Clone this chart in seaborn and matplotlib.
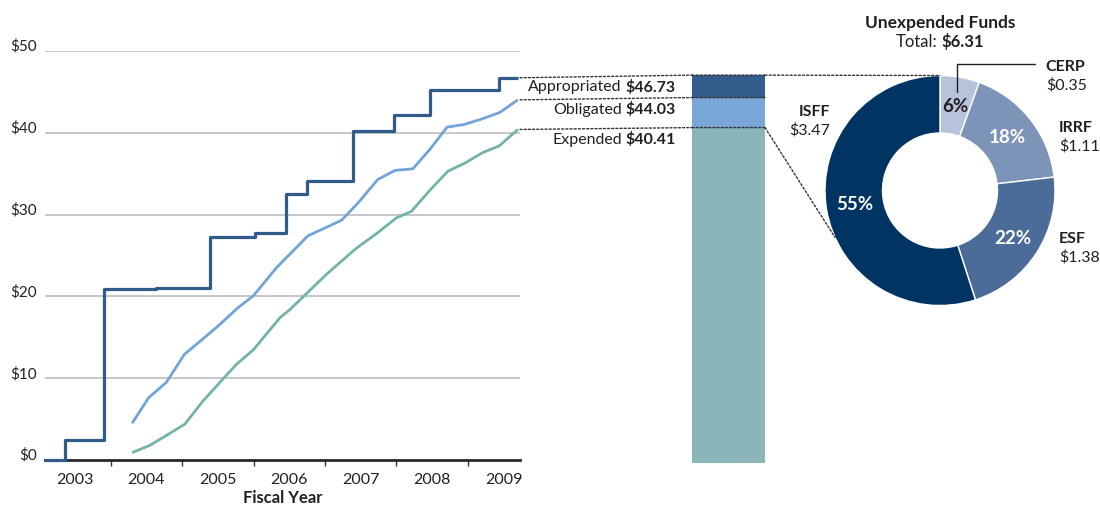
import numpy as np
import pandas as pd
import matplotlib
matplotlib.use("Agg")
import matplotlib.pyplot as plt
import seaborn as sns
from matplotlib.patches import ConnectionPatch
from matplotlib.transforms import ScaledTranslation, offset_copy

# ---------------- data ----------------
approp_x = [2003.08, 2003.36, 2003.90, 2004.64, 2005.39, 2006.02, 2006.46, 2006.75,
            2007.39, 2007.96, 2008.47, 2009.44, 2009.70]
approp_y = [0, 2.5, 20.9, 21.05, 27.3, 27.8, 32.5, 34.1, 40.2, 42.2, 45.2, 46.73, 46.73]

oblig_x = [2004.30, 2004.53, 2004.78, 2005.03, 2005.48, 2005.78, 2006.00, 2006.32,
           2006.76, 2007.23, 2007.46, 2007.74, 2007.98, 2008.23, 2008.47, 2008.71,
           2008.94, 2009.20, 2009.45, 2009.70]
oblig_y = [4.5, 7.6, 9.5, 12.9, 16.2, 18.6, 20.1, 23.5, 27.4, 29.3, 31.4, 34.3,
           35.4, 35.6, 38.0, 40.7, 41.0, 41.7, 42.5, 44.03]

expend_x = [2004.30, 2004.55, 2004.78, 2005.04, 2005.29, 2005.53, 2005.76, 2006.00,
            2006.37, 2006.51, 2007.02, 2007.44, 2007.74, 2008.00, 2008.21, 2008.47,
            2008.72, 2008.96, 2009.21, 2009.44, 2009.70]
expend_y = [0.9, 1.8, 3.0, 4.4, 7.2, 9.5, 11.7, 13.5, 17.4, 18.4, 22.7, 25.9, 27.8,
            29.6, 30.4, 33.0, 35.3, 36.3, 37.6, 38.4, 40.41]

years = [2003, 2004, 2005, 2006, 2007, 2008, 2009]
y_ticks = [0, 10, 20, 30, 40, 50]
y_tick_labels = ["$0", "$10", "$20", "$30", "$40", "$50"]

status_names = ["Appropriated", "Obligated", "Expended"]
status_values = [46.73, 44.03, 40.41]

fund_names = ["CERP", "IRRF", "ESF", "ISFF"]
fund_values = [0.35, 1.11, 1.38, 3.47]
fund_total = 6.31

# ---------------- style ----------------
C_APP = "#305b8b"
C_OBL = "#72a3d9"
C_EXP = "#72b4a9"
BAR_APP = "#335e8c"
BAR_OBL = "#78a6d6"
BAR_EXP = "#8ab6b9"
PIE_COLORS = ["#b6c3da", "#7d94b9", "#4b6c98", "#003462"]
TXT = "#231f20"

sns.set_style("white")
plt.rcParams["font.family"] = ["Lato", "DejaVu Sans"]
plt.rcParams["text.color"] = TXT

W, H = 1100, 510
fig = plt.figure(figsize=(W / 100, H / 100), dpi=100)

def rect(l, t, r, b):
    return [l / W, 1 - b / H, (r - l) / W, (b - t) / H]

# ---------------- line chart ----------------
ax = fig.add_axes(rect(45, 52, 520, 461))
df_a = pd.DataFrame({"x": approp_x, "y": approp_y})
df_o = pd.DataFrame({"x": oblig_x, "y": oblig_y})
df_e = pd.DataFrame({"x": expend_x, "y": expend_y})
sns.lineplot(data=df_e, x="x", y="y", ax=ax, color=C_EXP, lw=2.0, estimator=None,
             solid_capstyle="butt")
sns.lineplot(data=df_o, x="x", y="y", ax=ax, color=C_OBL, lw=2.0, estimator=None,
             solid_capstyle="butt")
sns.lineplot(data=df_a, x="x", y="y", ax=ax, color=C_APP, lw=2.3, estimator=None,
             drawstyle="steps-post", solid_capstyle="butt", zorder=4)
for l in ax.lines:
    l.set_clip_on(False)

ax.set_xlim(2003.08, 2009.73)
ax.set_ylim(0, 50)
ax.set_yticks(y_ticks)
ax.set_yticklabels(y_tick_labels)
ax.yaxis.grid(True, color="#bdbdbd", lw=1.2)
ax.xaxis.grid(False)
ax.tick_params(axis="y", length=0, pad=6, labelsize=11, labelcolor=TXT)
for lab in ax.get_yticklabels():
    lab.set_transform(lab.get_transform() + ScaledTranslation(0, 5 / 72, fig.dpi_scale_trans))

ax.set_xticks([y for y in years[1:]])
ax.set_xticklabels([])
ax.set_xticks([y + 0.5 for y in years], minor=True)
ax.set_xticklabels([str(y) for y in years], minor=True)
ax.tick_params(axis="x", which="major", direction="out", length=4, width=1, color="#333333", bottom=True)
ax.tick_params(axis="x", which="minor", length=0, pad=9, labelsize=11.5, labelcolor=TXT)
for s in ["top", "right", "left"]:
    ax.spines[s].set_visible(False)
ax.spines["bottom"].set_color("#2a2a2a")
ax.spines["bottom"].set_linewidth(2)
ax.set_xlabel("Fiscal Year", fontweight="bold", fontsize=12, labelpad=1.5, color=TXT)
ax.set_ylabel("")

# ---------------- stacked (overlaid) bar ----------------
ax_bar = fig.add_axes(rect(692, 49, 765, 464))
bar_colors = [BAR_APP, BAR_OBL, BAR_EXP]
for name, val, col in zip(status_names, status_values, bar_colors):
    sns.barplot(x=[""], y=[val], ax=ax_bar, color=col, width=1, saturation=1, linewidth=0)
ax_bar.set_xlim(-0.5, 0.5)
ax_bar.set_ylim(0, 50)
ax_bar.axis("off")

# ---------------- donut ----------------
ax_pie = fig.add_axes(rect(825, 76.5, 1055, 306.5))
wedges, texts, autotexts = ax_pie.pie(
    fund_values, colors=PIE_COLORS, startangle=90, counterclock=False, radius=1,
    wedgeprops=dict(width=0.5, edgecolor="white", linewidth=1),
    autopct="%1.0f%%", pctdistance=0.75,
    textprops=dict(fontsize=13.5, fontweight="bold"))
for i, t in enumerate(autotexts):
    t.set_color(TXT if i == 0 else "white")
ax_pie.set_xlim(-1, 1)
ax_pie.set_ylim(-1, 1)
ax_pie.set_aspect("equal")

# CERP leader line from wedge mid-angle
cerp_mid = np.deg2rad(90 - fund_values[0] / sum(fund_values) * 360 / 2)
lx = 0.87 * np.cos(cerp_mid)
ly = 0.87 * np.sin(cerp_mid)
ax_pie.plot([lx, lx, 0.826], [ly, 1.1, 1.1], color=TXT, lw=1, clip_on=False)

label_pos = {"CERP": (0.92, 1.083, "left"), "IRRF": (1.035, 0.552, "left"),
             "ESF": (1.035, -0.413, "left"), "ISFF": (-0.957, 0.691, "right")}
for name, val in zip(fund_names, fund_values):
    x, y, ha = label_pos[name]
    ax_pie.text(x, y, name, ha=ha, va="center", fontsize=11.5, fontweight="bold", clip_on=False)
    ax_pie.text(x, y - 0.155, f"${val:.2f}", ha=ha, va="center", fontsize=11.5, clip_on=False)

ax_pie.text(0, 1.465, "Unexpended Funds", ha="center", va="center", fontsize=12.5,
            fontweight="bold", clip_on=False)

renderer = fig.canvas.get_renderer()

# "Total: $6.31" centred
t1 = ax_pie.text(0, 1.30, "Total:", ha="left", va="center", fontsize=12)
t2 = ax_pie.text(0, 1.30, f"${fund_total:.2f}", ha="left", va="center", fontsize=12, fontweight="bold")
w1 = t1.get_window_extent(renderer).width
w2 = t2.get_window_extent(renderer).width
gap = 4
tot = w1 + gap + w2
t1.set_transform(offset_copy(ax_pie.transData, fig=fig, x=-tot / 2, y=0, units="dots"))
t2.set_transform(offset_copy(ax_pie.transData, fig=fig, x=-tot / 2 + w1 + gap, y=0, units="dots"))

# status labels next to bar
for name, val in zip(status_names, status_values):
    tb = ax_bar.text(-0.5, val, f"${val:.2f}", ha="right", va="center", fontsize=11.5,
                     fontweight="bold", clip_on=False,
                     transform=offset_copy(ax_bar.transData, fig=fig, x=-16, y=-11, units="dots"))
    wb = tb.get_window_extent(renderer).width
    ax_bar.text(-0.5, val, name, ha="right", va="center", fontsize=11.5, clip_on=False,
                transform=offset_copy(ax_bar.transData, fig=fig, x=-16 - wb - 4, y=-11, units="dots"))

# ---------------- dotted connectors ----------------
dot = dict(color="#333333", lw=1, linestyle=(0, (1.5, 1.5)))
x_end = approp_x[-1]
for val in status_values:
    fig.add_artist(ConnectionPatch(xyA=(x_end + 0.03, val), coordsA=ax.transData,
                                   xyB=(-0.5, val), coordsB=ax_bar.transData, **dot))
    fig.add_artist(ConnectionPatch(xyA=(-0.5, val), coordsA=ax_bar.transData,
                                   xyB=(0.5, val), coordsB=ax_bar.transData, **dot))
# top to donut top
fig.add_artist(ConnectionPatch(xyA=(0.5, status_values[0]), coordsA=ax_bar.transData,
                               xyB=(0, 1), coordsB=ax_pie.transData, **dot))
# expended corner to donut edge
ang = np.deg2rad(204)
fig.add_artist(ConnectionPatch(xyA=(0.5, status_values[2]), coordsA=ax_bar.transData,
                               xyB=(np.cos(ang), np.sin(ang)), coordsB=ax_pie.transData, **dot))

fig.savefig("out.png", dpi=100)
